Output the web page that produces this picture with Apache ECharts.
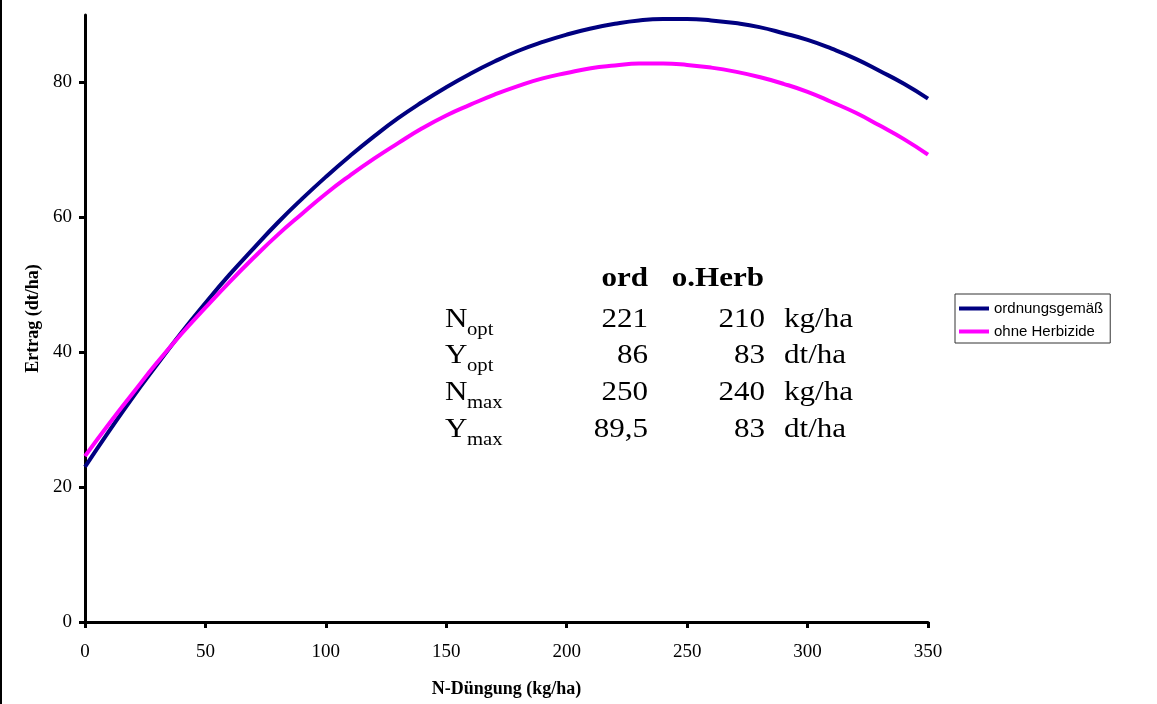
<!DOCTYPE html>
<html>
<head>
<meta charset="utf-8">
<script src="https://cdn.jsdelivr.net/npm/echarts@6/dist/echarts.min.js"></script>
<style>
html,body{margin:0;padding:0;background:#fff;}
#chart{width:1157px;height:704px;}
</style>
</head>
<body>
<div id="chart"></div>
<script>
// N fertilisation (kg/ha)
const xValues = [0,10,20,30,40,50,60,70,80,90,100,110,120,130,140,150,160,170,180,190,200,210,220,230,240,250,260,270,280,290,300,310,320,330,340,350];
// yield "ordnungsgemäß" (dt/ha)
const yOrd = [23.0,28.3,33.4,38.2,42.9,47.3,51.5,55.4,59.2,62.7,66.0,69.1,72.0,74.7,77.1,79.3,81.3,83.1,84.7,86.0,87.1,88.0,88.7,89.2,89.4,89.4,89.2,88.8,88.2,87.3,86.3,85.0,83.5,81.7,79.8,77.6];
// yield "ohne Herbizide" (dt/ha)
const yOhne = [24.6,29.4,34.0,38.5,42.7,46.6,50.4,54.0,57.4,60.5,63.5,66.2,68.7,71.0,73.2,75.1,76.7,78.2,79.5,80.6,81.4,82.1,82.5,82.8,82.8,82.6,82.2,81.6,80.8,79.8,78.6,77.1,75.5,73.6,71.6,69.3];
const seriesNames = ['ordnungsgemäß','ohne Herbizide'];
const yTicks = [0,20,40,60,80];
const xTicks = [0,50,100,150,200,250,300,350];

// annotation table
const tableHeader = ['ord','o.Herb'];
const rowMain = ['N','Y','N','Y'];
const rowSub = ['opt','opt','max','max'];
const colOrd = ['221','86','250','89,5'];
const colHerb = ['210','83','240','83'];
const rowUnit = ['kg/ha','dt/ha','kg/ha','dt/ha'];

const serif = '"Liberation Serif", "Times New Roman", serif';
const sans = '"Liberation Sans", Arial, sans-serif';

const chart = echarts.init(document.getElementById('chart'));

const graphics = [
  {type:'line', shape:{x1:1,y1:0,x2:1,y2:704}, style:{stroke:'#000', lineWidth:2}, silent:true}
];
const fs = 27, subFs = 18, sx = 1.15;
const headerBase = 293;
function txt(x, y, text, font, align) {
  graphics.push({type:'text', x:x, y:y, scaleX:sx, style:{text:text, font:font, fill:'#000', textAlign:align, textVerticalAlign:'bottom'}});
}
txt(648, headerBase, tableHeader[0], 'bold '+fs+'px '+serif, 'right');
txt(764, headerBase, tableHeader[1], 'bold '+fs+'px '+serif, 'right');
for (let i = 0; i < rowMain.length; i++) {
  const base = 333 + i * 36.7;
  txt(445, base, rowMain[i], fs+'px '+serif, 'left');
  txt(467, base+6, rowSub[i], subFs+'px '+serif, 'left');
  txt(648, base, colOrd[i], fs+'px '+serif, 'right');
  txt(765, base, colHerb[i], fs+'px '+serif, 'right');
  txt(784, base, rowUnit[i], fs+'px '+serif, 'left');
}

const option = {
  backgroundColor:'#fff',
  animation:false,
  grid:{left:85, right:229, top:15, bottom:82, containLabel:false},
  legend:{
    orient:'vertical', left:955, top:294,
    padding:[7,7,4,4], itemGap:8,
    itemWidth:30, itemHeight:4, icon:'rect',
    borderColor:'#333', borderWidth:1,
    textStyle:{fontFamily:sans, fontSize:15, color:'#000'},
    data:seriesNames
  },
  xAxis:{
    type:'value', min:0, max:350, interval:50,
    name:'N-Düngung (kg/ha)', nameLocation:'middle', nameGap:58,
    nameTextStyle:{fontFamily:serif, fontSize:18, fontWeight:'bold', color:'#000'},
    axisLine:{show:true, onZero:false, lineStyle:{color:'#000', width:3}},
    axisTick:{show:true, inside:false, length:6, lineStyle:{color:'#000', width:3}},
    axisLabel:{fontFamily:serif, fontSize:19, color:'#000', margin:21},
    splitLine:{show:false}
  },
  yAxis:{
    type:'value', min:0, max:90,
    name:'Ertrag (dt/ha)', nameLocation:'middle', nameGap:40,
    nameTextStyle:{fontFamily:serif, fontSize:18, fontWeight:'bold', color:'#000'},
    axisLine:{show:true, lineStyle:{color:'#000', width:3}},
    axisTick:{show:true, inside:false, length:6, lineStyle:{color:'#000', width:3}, customValues:yTicks},
    axisLabel:{fontFamily:serif, fontSize:19, color:'#000', margin:13, customValues:yTicks},
    splitLine:{show:false}
  },
  series:[
    {name:seriesNames[0], type:'line', smooth:true, showSymbol:false, symbol:'none',
     lineStyle:{color:'#000080', width:4}, itemStyle:{color:'#000080'},
     data:xValues.map((x,i)=>[x,yOrd[i]])},
    {name:seriesNames[1], type:'line', smooth:true, showSymbol:false, symbol:'none',
     lineStyle:{color:'#FF00FF', width:4}, itemStyle:{color:'#FF00FF'},
     data:xValues.map((x,i)=>[x,yOhne[i]])}
  ],
  graphic:graphics
};
chart.setOption(option);
</script>
</body>
</html>
